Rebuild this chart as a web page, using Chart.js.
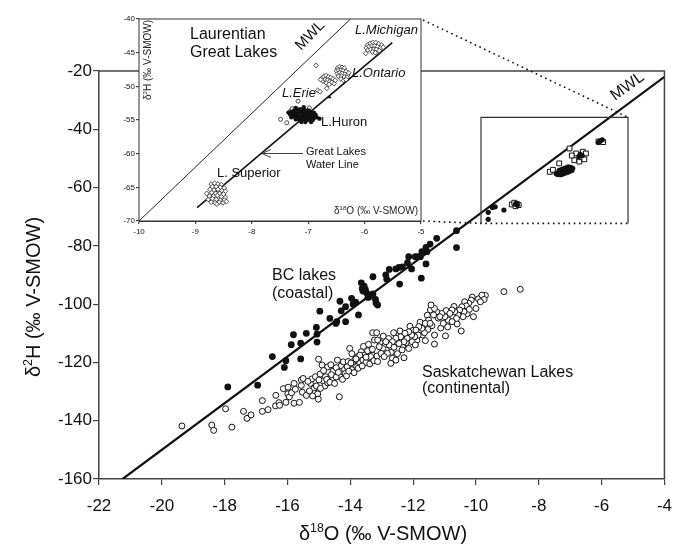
<!DOCTYPE html>
<html>
<head>
<meta charset="utf-8">
<script src="https://cdn.jsdelivr.net/npm/chart.js@4.4.1/dist/chart.umd.min.js"></script>
<style>
  body { margin: 0; background: #fff; }
  #wrap { position: relative; width: 683px; height: 547px; }
  #main { position: absolute; left: 0; top: 0; }
  #inset { position: absolute; left: 100px; top: 0; }
</style>
</head>
<body>
<div id="wrap">
  <canvas id="main" width="683" height="547"></canvas>
  <canvas id="inset" width="330" height="245"></canvas>
</div>
<script>
// ---- main chart data (d18O, d2H) ----
const xTicksMain = [-22, -20, -18, -16, -14, -12, -10, -8, -6, -4];
const yTicksMain = [-160, -140, -120, -100, -80, -60, -40, -20];

const mwlMain = [[-21.25, -160], [-4, -22]];

const bcLakes = [
  [-17.90,-128.4],[-16.95,-127.8],[-16.48,-118.0],[-16.05,-119.4],[-16.10,-121.7],[-15.88,-113.9],
  [-15.81,-110.5],[-15.58,-113.4],[-15.58,-118.8],[-15.40,-110.0],[-15.08,-108.0],[-15.06,-110.3],
  [-15.06,-113.0],[-14.97,-102.4],[-14.65,-104.9],[-14.46,-106.6],[-14.33,-99.0],[-14.29,-102.3],
  [-14.15,-100.9],[-14.15,-106.0],[-13.96,-98.0],[-13.91,-100.0],[-13.83,-99.3],[-13.74,-103.7],
  [-13.65,-92.7],[-13.62,-94.6],[-13.60,-95.5],[-13.56,-93.8],[-13.52,-94.9],[-13.47,-96.3],
  [-13.44,-97.7],[-13.39,-97.5],[-13.28,-90.6],[-13.28,-96.5],[-13.20,-98.4],[-13.13,-100.3],
  [-12.87,-90.0],[-12.84,-91.5],[-12.76,-88.1],[-12.55,-87.9],[-12.43,-93.1],[-12.45,-87.4],
  [-12.34,-87.2],[-12.18,-85.8],[-12.14,-83.7],[-12.05,-87.9],[-11.93,-83.7],[-11.84,-83.7],
  [-11.77,-83.7],[-11.72,-82.0],[-11.59,-80.5],[-11.56,-82.0],[-11.59,-86.2],[-11.74,-91.1],
  [-11.46,-79.4],[-11.25,-77.4],[-10.62,-74.8],[-10.62,-80.6],[-14.43,-106.0],[-13.18,-99.7]
];

const saskLakes = [
  // coldest end
  [-19.36,-141.8],[-18.41,-141.5],[-18.35,-143.3],[-17.77,-142.2],[-17.97,-135.9],[-17.40,-136.8],
  [-17.29,-139.2],[-17.16,-138.0],[-16.80,-133.1],[-16.80,-136.8],[-16.62,-136.2],[-16.37,-131.3],
  [-16.38,-134.9],[-16.27,-133.8],[-16.25,-134.7],[-16.13,-129.0],[-16.05,-133.7],[-15.99,-130.8],
  [-15.94,-131.8],[-15.98,-128.5],[-15.87,-130.4],[-15.79,-127.2],[-15.79,-134.0],[-15.75,-129.2],
  [-15.62,-133.7],[-15.56,-127.9],[-15.53,-130.2],[-15.40,-131.3],[-15.27,-127.2],[-15.16,-129.0],
  [-15.13,-130.6],[-15.56,-126.0],[-15.50,-125.5],[-15.23,-125.7],[-15.11,-124.9],
  // middle
  [-15.08,-128.1],[-15.04,-130.8],[-15.02,-132.6],[-15.01,-118.9],[-14.90,-120.9],[-14.96,-124.0],
  [-14.87,-126.3],[-14.81,-128.1],[-14.79,-124.9],[-14.72,-121.5],[-14.72,-127.0],[-14.56,-125.8],
  [-14.41,-119.2],[-14.35,-131.8],[-14.33,-124.9],[-14.29,-121.2],[-14.22,-119.8],[-14.18,-122.4],
  [-14.16,-123.8],[-14.07,-119.7],[-14.02,-115.2],[-13.91,-120.9],[-13.86,-119.2],[-13.76,-118.0],
  [-13.70,-120.3],[-13.65,-116.3],[-13.60,-119.2],[-13.55,-117.5],[-13.44,-118.6],[-13.39,-115.7],
  [-13.29,-117.5],[-13.23,-112.3],[-13.29,-109.8],[-13.16,-109.8],[-13.95,-117.0],[-13.80,-121.5],
  [-13.50,-120.0],[-13.35,-118.0],[-13.45,-116.0],[-13.70,-117.5],[-13.95,-122.5],[-14.10,-121.5],
  [-14.55,-123.0],[-14.62,-120.8],[-14.45,-121.8],
  [-15.35,-126.5],[-15.30,-129.8],[-15.20,-131.5],[-15.00,-126.0],[-14.95,-128.9],[-14.85,-122.8],
  [-14.75,-125.8],[-14.65,-126.8],[-14.60,-124.2],[-14.50,-127.2],[-14.45,-125.0],[-14.38,-123.4],
  [-14.25,-125.8],[-14.12,-124.6],[-14.05,-123.0],[-13.98,-120.2],[-13.88,-123.5],[-13.82,-118.8],
  [-13.75,-122.0],[-13.62,-121.2],[-13.58,-114.5],[-13.50,-118.2],[-13.42,-113.8],[-13.38,-120.5],
  [-13.30,-115.5],[-13.25,-119.4],[-13.15,-117.8],[-13.05,-113.2],[-12.95,-111.0],[-12.85,-115.8],
  [-12.78,-111.8],[-12.70,-116.5],[-12.62,-109.8],[-12.50,-117.0],[-12.42,-109.2],[-12.32,-114.2],
  [-12.22,-113.2],[-12.10,-107.6],[-12.00,-109.0],[-11.88,-112.4],[-11.78,-106.2],[-11.70,-110.6],
  [-11.55,-103.8],[-11.45,-102.0],[-11.40,-107.4],[-11.20,-104.8],[-11.12,-108.2],[-10.95,-102.2],
  [-10.90,-107.8],[-10.70,-100.8],[-10.60,-106.8],[-10.28,-103.3],[-10.12,-97.6],[-10.00,-101.5],
  [-9.92,-98.2],[-9.70,-97.0],
  // warm end
  [-9.81,-96.9],[-9.74,-98.4],[-9.86,-99.2],[-9.11,-95.7],[-8.59,-94.9],[-10.15,-98.6],[-10.23,-99.7],
  [-10.36,-99.2],[-10.31,-100.6],[-10.21,-101.8],[-10.45,-100.9],[-10.38,-102.6],[-10.52,-102.0],
  [-10.41,-104.3],[-10.57,-103.7],[-10.68,-102.6],[-10.62,-104.9],[-10.08,-104.3],[-10.47,-109.2],
  [-10.76,-102.0],[-10.83,-103.2],[-10.88,-105.5],[-10.76,-106.0],[-10.99,-104.3],[-11.09,-103.2],
  [-11.15,-104.3],[-11.25,-102.6],[-11.32,-101.5],[-11.43,-100.3],[-11.35,-103.7],[-11.04,-106.6],
  [-10.97,-110.9],[-11.32,-110.6],[-11.32,-113.7],[-11.51,-105.5],[-11.61,-106.6],[-11.46,-106.6],
  [-11.53,-108.7],[-11.64,-109.8],[-11.72,-108.3],[-11.82,-107.7],[-11.91,-108.9],[-11.84,-110.6],
  [-11.95,-111.2],[-12.05,-110.6],[-12.14,-109.5],[-12.19,-111.7],[-12.26,-110.0],[-12.29,-112.9],
  [-12.03,-112.9],[-11.93,-114.0],[-11.61,-112.5],[-12.40,-111.2],[-12.45,-113.5],[-12.55,-111.7],
  [-12.66,-112.9],[-12.76,-114.0],[-12.61,-114.8],[-12.35,-115.7],[-12.14,-115.2],[-12.87,-112.9],
  [-12.97,-115.2],[-13.08,-114.6],[-13.13,-112.3],[-13.02,-116.9],[-12.82,-116.9],[-12.66,-118.6],
  [-12.55,-119.2],[-12.29,-118.4],[-12.71,-120.3],[-13.13,-119.7],[-12.92,-118.0]
];

// Great Lakes points shown in the main panel
const glDots = [
  [-9.61,-70.9],[-9.61,-68.5],[-9.48,-66.8],[-9.39,-66.6],[-9.11,-67.7],[-8.74,-65.7],[-8.68,-65.9],
  [-7.45,-55.2],[-7.38,-54.9],[-7.32,-54.6],[-7.25,-54.3],[-7.18,-54.0],[-7.12,-53.7],[-7.05,-53.4],
  [-6.98,-53.1],[-7.40,-55.5],[-7.33,-55.2],[-7.26,-54.9],[-7.19,-54.6],[-7.12,-54.3],[-7.05,-54.0],
  [-6.98,-53.7],[-6.92,-53.4],[-7.30,-55.6],[-7.22,-55.3],[-7.15,-55.0],[-7.08,-54.7],[-7.01,-54.4],
  [-6.95,-54.1],[-7.35,-54.1],[-7.28,-53.8],[-7.20,-53.5],[-7.13,-53.2],[-7.06,-52.9],
  [-6.72,-49.3],[-6.62,-49.0],[-6.68,-48.6],[-6.05,-44.0],[-5.98,-43.6],[-6.10,-44.5]
];
const glSquares = [
  [-7.65,-54.6],[-7.35,-51.7],[-7.02,-46.6],[-6.81,-48.3],[-6.60,-47.7],[-6.87,-50.6],[-6.71,-51.1],
  [-6.50,-48.3],[-6.95,-49.0],[-6.65,-49.6],[-6.55,-50.3],[-6.10,-44.2],[-5.95,-44.4],
  [-8.86,-65.8],[-8.78,-65.2],[-8.70,-65.6],[-8.74,-66.4],[-8.64,-66.0],[-7.55,-53.9]
];

// ---- inset data ----
const xTicksInset = [-10, -9, -8, -7, -6, -5];
const yTicksInset = [-70, -65, -60, -55, -50, -45, -40];
const mwlInset = [[-10, -70], [-6.25, -40]];
const glwl = [[-8.97, -68.0], [-5.51, -43.5]];

const superior = [
  [-8.72,-64.5],[-8.66,-64.4],[-8.60,-64.5],[-8.54,-64.6],[-8.70,-64.9],[-8.63,-64.9],[-8.56,-65.0],
  [-8.49,-65.1],[-8.74,-65.3],[-8.67,-65.4],[-8.60,-65.3],[-8.53,-65.5],[-8.47,-65.6],[-8.80,-65.9],
  [-8.71,-65.8],[-8.64,-65.9],[-8.57,-65.9],[-8.50,-66.0],[-8.75,-66.3],[-8.68,-66.3],[-8.61,-66.2],
  [-8.54,-66.4],[-8.47,-66.5],[-8.77,-66.8],[-8.70,-66.7],[-8.63,-66.8],[-8.56,-66.9],[-8.49,-66.9],
  [-8.72,-67.2],[-8.65,-67.3],[-8.58,-67.2],[-8.51,-67.3],[-8.62,-67.5],[-8.45,-67.1]
];
const huron = [
  [-7.30,-53.8],[-7.25,-53.6],[-7.20,-53.5],[-7.15,-53.4],[-7.10,-53.5],[-7.05,-53.6],[-7.00,-53.6],
  [-6.95,-53.8],[-6.90,-53.9],[-7.32,-54.2],[-7.27,-54.1],[-7.22,-54.0],[-7.17,-54.0],[-7.12,-53.9],
  [-7.07,-54.0],[-7.02,-54.1],[-6.97,-54.2],[-6.92,-54.3],[-6.87,-54.2],[-7.30,-54.6],[-7.25,-54.5],
  [-7.20,-54.4],[-7.15,-54.5],[-7.10,-54.4],[-7.05,-54.5],[-7.00,-54.6],[-6.95,-54.6],[-6.90,-54.7],
  [-6.85,-54.6],[-7.22,-54.9],[-7.17,-54.9],[-7.12,-54.8],[-7.07,-54.9],[-7.02,-55.0],[-6.97,-54.9],
  [-6.92,-55.0],[-7.12,-55.3],[-7.05,-55.3],[-6.95,-55.3],[-7.35,-53.9],[-7.22,-53.2],[-7.08,-53.1],
  [-6.80,-54.8]
];
const huronOpen = [[-7.49,-54.9],[-7.38,-55.4],[-7.18,-52.2],[-7.31,-53.6],[-7.28,-53.3],[-6.98,-53.2]];
const erie = [
  [-6.76,-48.8],[-6.72,-48.5],[-6.68,-48.4],[-6.64,-48.6],[-6.60,-48.7],[-6.56,-48.9],[-6.52,-49.1],
  [-6.74,-49.2],[-6.70,-49.0],[-6.66,-49.1],[-6.62,-49.3],[-6.58,-49.4],[-6.54,-49.6],[-6.68,-49.5],
  [-6.63,-49.7],[-6.78,-49.0],[-6.86,-46.9],[-6.83,-50.6],[-6.67,-50.3],[-6.79,-50.8]
];
const erieTriangle = [[-6.62,-51.6]];
const ontario = [
  [-6.48,-47.3],[-6.44,-47.1],[-6.40,-47.2],[-6.36,-47.3],[-6.50,-47.7],[-6.46,-47.6],[-6.42,-47.6],
  [-6.38,-47.7],[-6.33,-47.8],[-6.48,-48.1],[-6.44,-48.0],[-6.40,-48.1],[-6.35,-48.2],[-6.30,-48.3],
  [-6.46,-48.5],[-6.41,-48.5],[-6.36,-48.6],[-6.31,-48.7],[-6.42,-48.9],[-6.37,-49.1],[-6.33,-49.0],
  [-6.28,-48.0]
];
const michigan = [
  [-5.95,-43.9],[-5.90,-43.6],[-5.85,-43.5],[-5.80,-43.5],[-5.75,-43.7],[-5.70,-43.9],[-5.97,-44.3],
  [-5.92,-44.1],[-5.87,-44.0],[-5.82,-44.0],[-5.77,-44.1],[-5.72,-44.3],[-5.67,-44.2],[-5.94,-44.6],
  [-5.89,-44.5],[-5.84,-44.5],[-5.79,-44.5],[-5.74,-44.7],[-5.86,-44.9],[-5.81,-45.0],[-5.98,-45.1]
];

// zoom box drawn on the main panel (data units)
const zoomBox = { x0: -9.84, x1: -5.16, y0: -72.3, y1: -35.9 };

const FONT = "'Liberation Sans', Arial, Helvetica, sans-serif";
const pts = a => a.map(p => ({ x: p[0], y: p[1] }));

// text with a superscript part
function richText(ctx, x, y, parts, size, align) {
  let w = 0;
  parts.forEach(p => {
    ctx.font = (p.sup ? size * 0.62 : size) + 'px ' + FONT;
    p.w = ctx.measureText(p.t).width;
    w += p.w;
  });
  let cx = align === 'center' ? x - w / 2 : align === 'right' ? x - w : x;
  ctx.textAlign = 'left';
  ctx.textBaseline = 'alphabetic';
  parts.forEach(p => {
    ctx.font = (p.sup ? size * 0.62 : size) + 'px ' + FONT;
    ctx.fillText(p.t, cx, p.sup ? y - size * 0.4 : y);
    cx += p.w;
  });
}

function text(ctx, s, x, y, size, opts) {
  opts = opts || {};
  ctx.save();
  ctx.font = (opts.italic ? 'italic ' : '') + size + 'px ' + FONT;
  ctx.fillStyle = '#111';
  ctx.textAlign = opts.align || 'left';
  ctx.textBaseline = 'alphabetic';
  if (opts.rot) {
    ctx.translate(x, y);
    ctx.rotate(opts.rot);
    ctx.fillText(s, 0, 0);
  } else {
    ctx.fillText(s, x, y);
  }
  ctx.restore();
}

function axisOpts(min, max, step, fontSize, tickLen, pad, fit) {
  return {
    type: 'linear', min: min, max: max,
    ticks: { stepSize: step, padding: pad, color: '#111', font: { family: FONT, size: fontSize } },
    grid: { display: true, drawOnChartArea: false, drawTicks: true, tickLength: tickLen, color: '#444', lineWidth: 1.2 },
    border: { display: true, color: '#444', width: 1.5 },
    afterFit: fit
  };
}

const mainDecor = {
  id: 'mainDecor',
  afterDatasetsDraw(chart) {
    const ctx = chart.ctx, a = chart.chartArea;
    const xs = chart.scales.x, ys = chart.scales.y;
    ctx.save();
    // top and right frame
    ctx.strokeStyle = '#444';
    ctx.lineWidth = 1.5;
    ctx.beginPath();
    ctx.moveTo(a.left, a.top); ctx.lineTo(a.right, a.top); ctx.lineTo(a.right, a.bottom);
    ctx.stroke();

    // zoom box
    const bx0 = xs.getPixelForValue(zoomBox.x0), bx1 = xs.getPixelForValue(zoomBox.x1);
    const by0 = ys.getPixelForValue(zoomBox.y0), by1 = ys.getPixelForValue(zoomBox.y1);
    ctx.strokeStyle = '#333';
    ctx.lineWidth = 1.2;
    ctx.beginPath();
    ctx.moveTo(bx0, by0); ctx.lineTo(bx0, by1); ctx.lineTo(bx1, by1); ctx.lineTo(bx1, by0);
    ctx.stroke();
    // dotted links to the inset (inset plot corner at 421,19 / 421,221)
    ctx.setLineDash([1.6, 3.6]);
    ctx.lineWidth = 1.6;
    ctx.strokeStyle = '#111';
    ctx.beginPath();
    ctx.moveTo(423, 20); ctx.lineTo(bx1, by1);
    ctx.moveTo(423, 221); ctx.lineTo(bx0, by0); ctx.lineTo(bx1, by0);
    ctx.stroke();
    ctx.restore();

    // labels
    text(ctx, 'MWL', 615, 101, 16, { rot: -0.63 });
    text(ctx, 'BC lakes', 272, 280, 16);
    text(ctx, '(coastal)', 272, 298, 16);
    text(ctx, 'Saskatchewan Lakes', 422, 377, 16);
    text(ctx, '(continental)', 422, 393, 16);

    // axis titles
    ctx.save();
    ctx.fillStyle = '#111';
    richText(ctx, 383, 540, [{ t: 'δ' }, { t: '18', sup: true }, { t: 'O (‰ V-SMOW)' }], 20, 'center');
    ctx.translate(40, 297);
    ctx.rotate(-Math.PI / 2);
    richText(ctx, 0, 0, [{ t: 'δ' }, { t: '2', sup: true }, { t: 'H (‰ V-SMOW)' }], 20, 'center');
    ctx.restore();
  }
};

new Chart(document.getElementById('main'), {
  type: 'scatter',
  data: {
    datasets: [
      { data: pts(mwlMain), showLine: true, pointRadius: 0, borderColor: '#111', borderWidth: 2.2, order: 5 },
      { data: pts(saskLakes), pointRadius: 3, backgroundColor: '#fff', borderColor: '#111', borderWidth: 1, order: 4 },
      { data: pts(bcLakes), pointRadius: 3.4, backgroundColor: '#111', borderWidth: 0, order: 3 },
      { data: pts(glSquares), pointStyle: 'rect', pointRadius: 3.4, backgroundColor: '#fff', borderColor: '#111', borderWidth: 1, order: 2 },
      { data: pts(glDots), pointRadius: 2.6, backgroundColor: '#111', borderWidth: 0, order: 1 }
    ]
  },
  options: {
    responsive: false, animation: false, devicePixelRatio: 1,
    layout: { autoPadding: false, padding: { left: 0, right: 10, top: 71, bottom: 0 } },
    plugins: { legend: { display: false }, tooltip: { enabled: false } },
    scales: {
      x: axisOpts(-22, -4, 2, 17, 6, 11, s => { s.height = 68; }),
      y: axisOpts(-160, -20, 20, 17, 6, 1, s => { s.width = 99; })
    }
  },
  plugins: [mainDecor]
});

const insetDecor = {
  id: 'insetDecor',
  beforeDatasetsDraw(chart) {
    const ctx = chart.ctx, a = chart.chartArea;
    ctx.save();
    ctx.fillStyle = '#fff';
    ctx.fillRect(a.left, a.top, a.right - a.left, a.bottom - a.top);
    ctx.restore();
  },
  afterDraw(chart) {
    const ctx = chart.ctx, a = chart.chartArea;
    ctx.save();
    ctx.strokeStyle = '#333';
    ctx.lineWidth = 1;
    ctx.strokeRect(a.left, a.top, a.right - a.left, a.bottom - a.top);
    // arrow to the Great Lakes Water Line
    ctx.strokeStyle = '#444';
    ctx.beginPath();
    ctx.moveTo(203, 153.5); ctx.lineTo(162, 153.5);
    ctx.moveTo(171, 149.5); ctx.lineTo(162, 153.5); ctx.lineTo(171, 157.5);
    ctx.stroke();
    ctx.restore();

    text(ctx, 'Laurentian', 90, 39, 16);
    text(ctx, 'Great Lakes', 90, 57, 16);
    text(ctx, 'MWL', 201, 51, 15, { rot: -0.8 });
    text(ctx, 'L.Michigan', 255, 34, 13, { italic: true });
    text(ctx, 'L.Ontario', 252, 77, 13, { italic: true });
    text(ctx, 'L.Erie', 182, 97, 13, { italic: true });
    text(ctx, 'L.Huron', 221, 126, 13);
    text(ctx, 'L. Superior', 117, 177, 13);
    text(ctx, 'Great Lakes', 206, 155, 11);
    text(ctx, 'Water Line', 206, 168, 11);

    ctx.save();
    ctx.fillStyle = '#222';
    richText(ctx, 318, 214, [{ t: 'δ' }, { t: '18', sup: true }, { t: 'O (‰ V-SMOW)' }], 10, 'right');
    ctx.translate(51, 100);
    ctx.rotate(-Math.PI / 2);
    richText(ctx, 0, 0, [{ t: 'δ' }, { t: '2', sup: true }, { t: 'H (‰ V-SMOW)' }], 10, 'left');
    ctx.restore();
  }
};

new Chart(document.getElementById('inset'), {
  type: 'scatter',
  data: {
    datasets: [
      { data: pts(mwlInset), showLine: true, pointRadius: 0, borderColor: '#222', borderWidth: 1, order: 6 },
      { data: pts(glwl), showLine: true, pointRadius: 0, borderColor: '#111', borderWidth: 1.6, order: 5 },
      { data: pts(superior), pointStyle: 'rectRot', pointRadius: 2.4, backgroundColor: '#fff', borderColor: '#222', borderWidth: 0.8, order: 4 },
      { data: pts(huronOpen), pointRadius: 2, backgroundColor: '#fff', borderColor: '#222', borderWidth: 0.8, order: 4 },
      { data: pts(huron), pointRadius: 2.2, backgroundColor: '#111', borderWidth: 0, order: 3 },
      { data: pts(erie), pointStyle: 'rectRot', pointRadius: 2.4, backgroundColor: '#fff', borderColor: '#222', borderWidth: 0.8, order: 2 },
      { data: pts(ontario), pointStyle: 'rectRot', pointRadius: 2.4, backgroundColor: '#fff', borderColor: '#222', borderWidth: 0.8, order: 2 },
      { data: pts(michigan), pointStyle: 'rectRot', pointRadius: 2.4, backgroundColor: '#fff', borderColor: '#222', borderWidth: 0.8, order: 2 },
      { data: pts(erieTriangle), pointStyle: 'triangle', pointRadius: 2.2, backgroundColor: '#111', borderWidth: 0, order: 1 }
    ]
  },
  options: {
    responsive: false, animation: false, devicePixelRatio: 1,
    layout: { autoPadding: false, padding: { left: 0, right: 9, top: 19, bottom: 0 } },
    plugins: { legend: { display: false }, tooltip: { enabled: false } },
    scales: {
      x: Object.assign(axisOpts(-10, -5, 1, 8, 3, 3, s => { s.height = 24; }),
        { border: { display: true, color: '#333', width: 1 } }),
      y: Object.assign(axisOpts(-70, -40, 5, 8, 3, 1, s => { s.width = 39; }),
        { border: { display: true, color: '#333', width: 1 } })
    }
  },
  plugins: [insetDecor]
});
</script>
</body>
</html>
